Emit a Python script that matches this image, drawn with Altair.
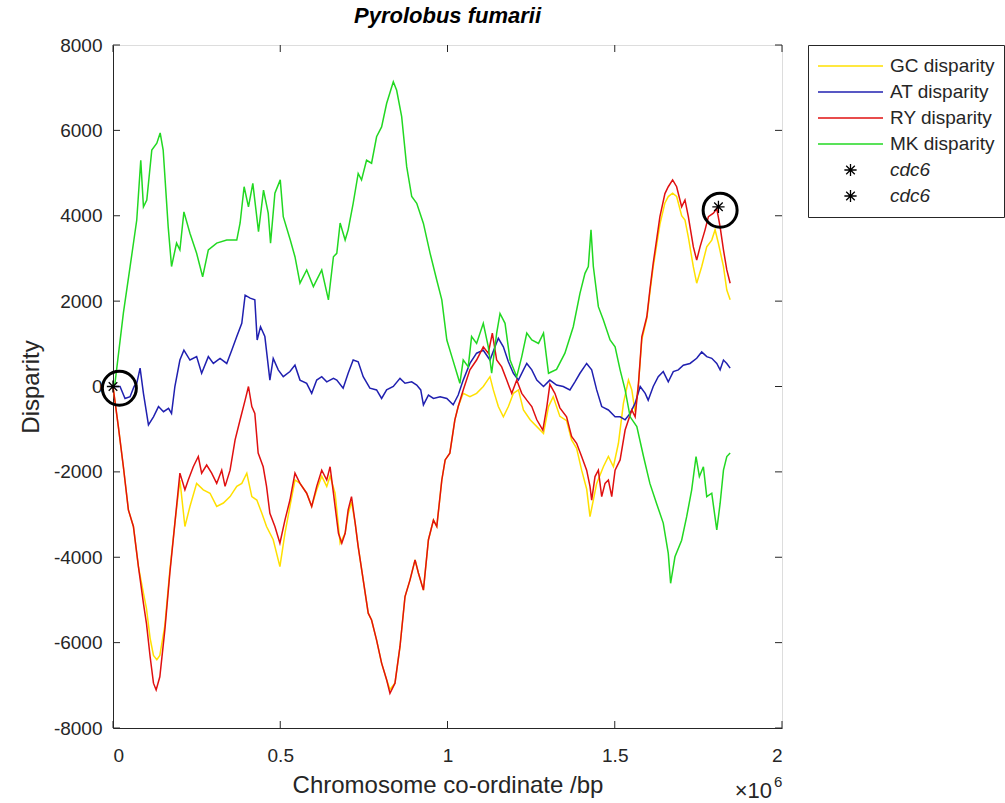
import altair as alt
import pandas as pd

# ---------------- data (x in units of 1e6 bp) ----------------
mk_x = [0.0, 0.006, 0.031, 0.051, 0.071, 0.083, 0.091, 0.101, 0.116, 0.131, 0.141, 0.15, 0.165, 0.175, 0.19, 0.2,
        0.212, 0.23, 0.25, 0.268, 0.285, 0.31, 0.34, 0.37, 0.38, 0.392, 0.405, 0.418, 0.435, 0.45, 0.464, 0.471,
        0.484, 0.5, 0.509, 0.53, 0.544, 0.559, 0.579, 0.599, 0.624, 0.644, 0.659, 0.669, 0.679, 0.694, 0.703,
        0.718, 0.733, 0.743, 0.758, 0.773, 0.788, 0.803, 0.818, 0.838, 0.848, 0.863, 0.878, 0.893, 0.908, 0.928,
        0.948, 0.968, 0.983, 0.998, 1.013, 1.028, 1.037, 1.047, 1.062, 1.072, 1.087, 1.107, 1.122, 1.132, 1.147,
        1.157, 1.172, 1.187, 1.207, 1.222, 1.237, 1.252, 1.272, 1.287, 1.302, 1.326, 1.351, 1.376, 1.396, 1.411,
        1.421, 1.429, 1.436, 1.451, 1.466, 1.486, 1.501, 1.516, 1.531, 1.546, 1.566, 1.586, 1.605, 1.625, 1.645,
        1.66, 1.667, 1.68, 1.7, 1.715, 1.73, 1.743, 1.753, 1.765, 1.775, 1.79, 1.805, 1.815, 1.825, 1.835, 1.845]
mk_y = [0, 80, 1720, 2800, 3900, 5300, 4210, 4370, 5540, 5700, 5940, 5540, 3740, 2810, 3360, 3200,
        4090, 3590, 3120, 2570, 3200, 3360, 3430, 3430, 3830, 4680, 4210, 4760, 3630, 4600, 4060, 3360,
        4530, 4840, 3980, 3430, 3040, 2420, 2730, 2340, 2730, 2030, 3040, 3120, 3830, 3430, 3670,
        4290, 4990, 4840, 5300, 5230, 5850, 6080, 6630, 7140, 6940, 6320, 5150, 4450, 4290, 3820,
        3120, 2490, 2030, 1090, 700, 310, 75, 620, 460, 1170, 1010, 1480, 930, 310, 1250,
        1710, 1480, 620, 230, 700, 1250, 1090, 1010, 1250, 310, 400, 780, 1400, 2180, 2650,
        2810, 3670, 2810, 1870, 1560, 1090, 930, 390, -80, -710, -940, -1640, -2270, -2740, -3200,
        -3910, -4610, -3990, -3600, -3050, -2420, -1640, -2110, -1880, -2580, -2500, -3360, -2740, -1960, -1640, -1560]

at_x = [0.0, 0.021, 0.036, 0.051, 0.063, 0.071, 0.081, 0.091, 0.106, 0.121, 0.136, 0.151, 0.166, 0.175, 0.185,
        0.2, 0.212, 0.23, 0.25, 0.265, 0.285, 0.3, 0.32, 0.34, 0.355, 0.37, 0.385, 0.395, 0.41, 0.424, 0.431,
        0.441, 0.454, 0.469, 0.479, 0.494, 0.509, 0.529, 0.544, 0.559, 0.579, 0.594, 0.609, 0.624, 0.639, 0.659,
        0.669, 0.688, 0.703, 0.718, 0.733, 0.748, 0.768, 0.788, 0.803, 0.818, 0.838, 0.858, 0.873, 0.893, 0.908,
        0.92, 0.928, 0.943, 0.958, 0.978, 0.998, 1.017, 1.032, 1.047, 1.067, 1.087, 1.107, 1.127, 1.142, 1.152,
        1.167, 1.182, 1.197, 1.212, 1.227, 1.237, 1.252, 1.267, 1.287, 1.306, 1.326, 1.346, 1.366, 1.381, 1.396,
        1.416, 1.431, 1.446, 1.461, 1.481, 1.501, 1.516, 1.531, 1.546, 1.561, 1.576, 1.591, 1.6, 1.615, 1.63,
        1.645, 1.66, 1.675, 1.69, 1.705, 1.725, 1.745, 1.76, 1.775, 1.79, 1.805, 1.815, 1.825, 1.835, 1.845]
at_y = [0, 0, -280, -240, 0, 75, 430, -160, -900, -710, -470, -590, -510, -630, 0,
        620, 850, 620, 700, 310, 700, 540, 660, 540, 850, 1170, 1480, 2140, 2070, 2030, 1090,
        1400, 1170, 150, 660, 390, 230, 350, 500, 150, 75, -160, 150, 230, 110, 190,
        150, -40, 310, 620, 580, 230, -40, -80, -280, -80, 0, 190, 75, 110, 35,
        -80, -430, -200, -280, -240, -280, -430, -200, 150, 540, 780, 850, 620, 930, 1130,
        930, 580, 310, 150, 390, 540, 390, 150, 0, 150, 35, 0, -80, 110, 310,
        540, 390, -80, -470, -550, -710, -710, -780, -630, -390, 0, -160, -320, 0, 230,
        350, 110, 350, 390, 500, 540, 660, 810, 700, 660, 540, 390, 620, 540, 430]

ry_x = [0.0, 0.016, 0.031, 0.046, 0.061, 0.076, 0.091, 0.1, 0.111, 0.121, 0.129, 0.14, 0.155, 0.17, 0.185, 0.2,
        0.215, 0.225, 0.24, 0.255, 0.265, 0.28, 0.295, 0.31, 0.325, 0.335, 0.35, 0.365, 0.38, 0.395, 0.405,
        0.415, 0.424, 0.434, 0.449, 0.459, 0.469, 0.484, 0.499, 0.514, 0.529, 0.544, 0.559, 0.579, 0.594, 0.609,
        0.624, 0.639, 0.649, 0.659, 0.674, 0.684, 0.694, 0.703, 0.713, 0.724, 0.733, 0.748, 0.763, 0.773, 0.788,
        0.803, 0.818, 0.828, 0.843, 0.858, 0.873, 0.888, 0.903, 0.913, 0.928, 0.943, 0.958, 0.968, 0.983, 0.993,
        1.007, 1.022, 1.032, 1.047, 1.067, 1.087, 1.107, 1.122, 1.134, 1.147, 1.162, 1.177, 1.192, 1.207, 1.222,
        1.237, 1.252, 1.267, 1.285, 1.297, 1.306, 1.321, 1.336, 1.356, 1.371, 1.386, 1.401, 1.416, 1.426, 1.431,
        1.441, 1.451, 1.461, 1.471, 1.481, 1.491, 1.501, 1.516, 1.531, 1.551, 1.561, 1.571, 1.581, 1.596, 1.605,
        1.615, 1.625, 1.635, 1.65, 1.66, 1.673, 1.685, 1.7, 1.71, 1.72, 1.735, 1.745, 1.755, 1.77, 1.78, 1.795,
        1.805, 1.815, 1.825, 1.835, 1.845]
ry_y = [0, -940, -1880, -2890, -3280, -4220, -5080, -5550, -6330, -6950, -7110, -6800, -5700, -4370, -3200, -2030,
        -2420, -2190, -1880, -1640, -2030, -1840, -2030, -2270, -1960, -2340, -1960, -1250, -780, -320, 0,
        -470, -630, -1560, -1880, -2340, -2970, -3280, -3670, -3130, -2660, -2030, -2270, -2500, -2810, -2340,
        -1960, -2190, -1880, -2500, -3440, -3670, -3440, -2890, -2580, -3200, -3750, -4530, -5310, -5470, -5940,
        -6480, -6870, -7190, -6950, -6090, -4920, -4530, -4060, -4370, -4770, -3590, -3130, -3280, -2190, -1720,
        -1560, -780, -470, -80, 390, 620, 930, 780, 1250, 620, 460, 150, -160, 150, -160,
        -320, -470, -780, -1020, -470, 50, -160, -500, -710, -1170, -1330, -1640, -1960, -2340, -2660,
        -2110, -1960, -2580, -2270, -2190, -2580, -1960, -1720, -1020, -550, -710, 75, 1170, 1640, 2260,
        2890, 3430, 3980, 4520, 4680, 4840, 4680, 4210, 4370, 3980, 3270, 2960, 3270, 3670, 3980, 4060,
        4170, 3740, 3200, 2730, 2420]

gc_x = [0.0, 0.016, 0.031, 0.046, 0.061, 0.076, 0.091, 0.1, 0.111, 0.121, 0.131, 0.14, 0.155, 0.17, 0.185, 0.2,
        0.215, 0.23, 0.25, 0.27, 0.29, 0.31, 0.33, 0.35, 0.37, 0.385, 0.4, 0.415, 0.43, 0.445, 0.459, 0.479,
        0.499, 0.514, 0.529, 0.544, 0.559, 0.579, 0.594, 0.609, 0.624, 0.639, 0.649, 0.664, 0.679, 0.694, 0.703,
        0.713, 0.724, 0.733, 0.748, 0.763, 0.773, 0.788, 0.803, 0.818, 0.828, 0.843, 0.858, 0.873, 0.888, 0.903,
        0.913, 0.928, 0.943, 0.958, 0.968, 0.983, 0.993, 1.007, 1.022, 1.032, 1.047, 1.067, 1.087, 1.107, 1.127,
        1.137, 1.152, 1.167, 1.182, 1.197, 1.212, 1.227, 1.247, 1.267, 1.287, 1.302, 1.316, 1.336, 1.356, 1.371,
        1.386, 1.401, 1.416, 1.426, 1.446, 1.466, 1.481, 1.496, 1.511, 1.526, 1.541, 1.551, 1.561, 1.571, 1.581,
        1.596, 1.605, 1.615, 1.625, 1.635, 1.65, 1.66, 1.673, 1.685, 1.7, 1.71, 1.72, 1.735, 1.745, 1.76, 1.775,
        1.79, 1.8, 1.81, 1.825, 1.835, 1.845]
gc_y = [0, -940, -1880, -2890, -3280, -4220, -4840, -5200, -5900, -6300, -6400, -6300, -5600, -4300, -3200, -2190,
        -3280, -2810, -2270, -2420, -2500, -2810, -2730, -2580, -2340, -2270, -2030, -2580, -2660, -2970, -3280, -3590,
        -4220, -3440, -2810, -2190, -2270, -2500, -2810, -2420, -2100, -2340, -2100, -2500, -3670, -3440, -2990,
        -2700, -3200, -3750, -4530, -5310, -5470, -5940, -6480, -6870, -7100, -6950, -6090, -4920, -4530, -4060,
        -4370, -4770, -3590, -3130, -3280, -2190, -1720, -1560, -780, -470, -160, -240, -160, 0, 230,
        -80, -470, -710, -470, -160, -80, -550, -780, -940, -1100, -470, -240, -700, -800, -1250,
        -1450, -1960, -2400, -3050, -2270, -1880, -1640, -1880, -1330, -390, 150, -80, -600, 75, 1100,
        1600, 2200, 2800, 3300, 3800, 4300, 4450, 4530, 4450, 4000, 3900, 3500, 2800, 2420, 2810, 3270,
        3430, 3670, 3350, 2810, 2260, 2030]

cdc6_x = [0.0, 1.81]
cdc6_y = [0, 4210]
cdc6_names = ["cdc6 a", "cdc6 b"]

circle_x = [0.019, 1.815]
circle_y = [-40, 4130]

series_names = ["GC disparity", "AT disparity", "RY disparity", "MK disparity", "cdc6 a", "cdc6 b"]
series_colors = ["#FFE000", "#2020B0", "#E01010", "#22D822", "#000000", "#000000"]

x_ticks = [0, 0.5, 1, 1.5, 2]
y_ticks = [-8000, -6000, -4000, -2000, 0, 2000, 4000, 6000, 8000]

# ---------------- styling ----------------
W, H = 669, 683
FONT = "Liberation Sans"
TXT = "#262626"
AST = "M-1,0L1,0M0,-1L0,1M-0.7,-0.7L0.7,0.7M-0.7,0.7L0.7,-0.7"
shape_range = ["stroke", "stroke", "stroke", "stroke", AST, AST]
size_range = [4225, 4225, 4225, 4225, 150, 150]
TICK = 7


def frame(xs, ys, name):
    return pd.DataFrame({"x": [v * 1e6 for v in xs], "y": ys, "series": name})


xscale = alt.Scale(domain=[0, 2e6], nice=False, zero=False)
yscale = alt.Scale(domain=[-8000, 8000], nice=False, zero=False)
xvals = [v * 1e6 for v in x_ticks]

legend = alt.Legend(
    title=None, orient="none", legendX=695, legendY=0, padding=9,
    strokeColor=TXT, fillColor="white", labelFont=FONT, labelFontSize=19,
    labelColor=TXT, clipHeight=24, rowPadding=2, labelOffset=6,
    symbolStrokeWidth=1.3, symbolOpacity=1,
    labelExpr="indexof(datum.label,'cdc6')==0 ? 'cdc6' : datum.label",
    labelFontStyle=alt.ExprRef(expr="indexof(datum.value,'cdc6')==0 ? 'italic' : 'normal'"),
)

color_enc = alt.Color("series:N", scale=alt.Scale(domain=series_names, range=series_colors), legend=legend)

main_x_axis = alt.Axis(values=xvals, labelExpr="datum.value/1000000", ticks=False, tickSize=0, grid=False,
                       domain=True, domainColor=TXT, labelFont=FONT, labelFontSize=19, labelColor=TXT,
                       labelPadding=18, title="Chromosome co-ordinate /bp", titleFont=FONT, titleFontSize=24,
                       titleFontWeight="normal", titleColor=TXT, titlePadding=8)
main_y_axis = alt.Axis(values=y_ticks, labelExpr="'' + datum.value", ticks=False, tickSize=0, grid=False,
                       domain=True, domainColor=TXT, labelFont=FONT, labelFontSize=19, labelColor=TXT,
                       labelPadding=11, title="Disparity", titleFont=FONT, titleFontSize=24,
                       titleFontWeight="normal", titleColor=TXT, titlePadding=10)


def line_layer(xs, ys, name, first=False):
    df = frame(xs, ys, name)
    if first:
        xe = alt.X("x:Q", scale=xscale, axis=main_x_axis)
        ye = alt.Y("y:Q", scale=yscale, axis=main_y_axis)
    else:
        xe = alt.X("x:Q", scale=xscale, axis=None)
        ye = alt.Y("y:Q", scale=yscale, axis=None)
    return alt.Chart(df).mark_line(strokeWidth=1.5).encode(x=xe, y=ye, color=color_enc, order="x:Q")


gc = line_layer(gc_x, gc_y, "GC disparity", first=True)
at = line_layer(at_x, at_y, "AT disparity")
ry = line_layer(ry_x, ry_y, "RY disparity")
mk = line_layer(mk_x, mk_y, "MK disparity")

# inward tick marks on all four sides of the box
xt_df = pd.DataFrame({"v": xvals})
yt_df = pd.DataFrame({"v": y_ticks})
xticks_bottom = alt.Chart(xt_df).mark_tick(orient="vertical", size=TICK, thickness=1, color=TXT,
                                           yOffset=-TICK / 2, opacity=1).encode(
    x=alt.X("v:Q", scale=xscale, axis=None), y=alt.Y(datum=-8000, scale=yscale, axis=None))
xticks_top = alt.Chart(xt_df).mark_tick(orient="vertical", size=TICK, thickness=1, color=TXT,
                                        yOffset=TICK / 2, opacity=1).encode(
    x=alt.X("v:Q", scale=xscale, axis=None), y=alt.Y(datum=8000, scale=yscale, axis=None))
yticks_left = alt.Chart(yt_df).mark_tick(orient="horizontal", size=TICK, thickness=1, color=TXT,
                                         xOffset=TICK / 2, opacity=1).encode(
    y=alt.Y("v:Q", scale=yscale, axis=None), x=alt.X(datum=0, scale=xscale, axis=None))
yticks_right = alt.Chart(yt_df).mark_tick(orient="horizontal", size=TICK, thickness=1, color=TXT,
                                          xOffset=-TICK / 2, opacity=1).encode(
    y=alt.Y("v:Q", scale=yscale, axis=None), x=alt.X(datum=2e6, scale=xscale, axis=None))

stars_df = pd.DataFrame({"x": [v * 1e6 for v in cdc6_x], "y": cdc6_y, "series": cdc6_names})
stars = alt.Chart(stars_df).mark_point(filled=False, strokeWidth=1.3, opacity=1).encode(
    x=alt.X("x:Q", scale=xscale, axis=None),
    y=alt.Y("y:Q", scale=yscale, axis=None),
    color=color_enc,
    shape=alt.Shape("series:N", scale=alt.Scale(domain=series_names, range=shape_range), legend=legend),
    size=alt.Size("series:N", scale=alt.Scale(type="ordinal", domain=series_names, range=size_range), legend=legend),
)

circ_df = pd.DataFrame({"x": [v * 1e6 for v in circle_x], "y": circle_y})
circles = alt.Chart(circ_df).mark_point(shape="circle", filled=False, size=1156, strokeWidth=3,
                                        color="black", opacity=1).encode(
    x=alt.X("x:Q", scale=xscale, axis=None),
    y=alt.Y("y:Q", scale=yscale, axis=None),
)

one = pd.DataFrame({"k": [0]})
exp_base = alt.Chart(one).mark_text(align="right", baseline="alphabetic", dx=-10, fontSize=22, font=FONT,
                                    color=TXT, text="×10").encode(
    x=alt.X(datum=2e6, scale=xscale, axis=None), y=alt.value(H + 70))
exp_sup = alt.Chart(one).mark_text(align="left", baseline="alphabetic", dx=-8, fontSize=15, font=FONT,
                                   color=TXT, text="6").encode(
    x=alt.X(datum=2e6, scale=xscale, axis=None), y=alt.value(H + 59))

chart = alt.layer(gc, at, ry, mk, xticks_bottom, xticks_top, yticks_left, yticks_right,
                  circles, stars, exp_base, exp_sup).resolve_axis(
    x="independent", y="independent"
).properties(
    width=W, height=H,
    title=alt.TitleParams("Pyrolobus fumarii", font=FONT, fontSize=22, fontWeight="bold", fontStyle="italic",
                          color="black", anchor="middle", offset=8),
    autosize=alt.AutoSizeParams(type="none"),
    padding={"left": 113, "top": 45, "right": 223, "bottom": 75},
).configure_view(stroke=TXT, strokeWidth=1).configure(background="white")

chart.save("out.html", embed_options={"renderer": "svg", "actions": False})
